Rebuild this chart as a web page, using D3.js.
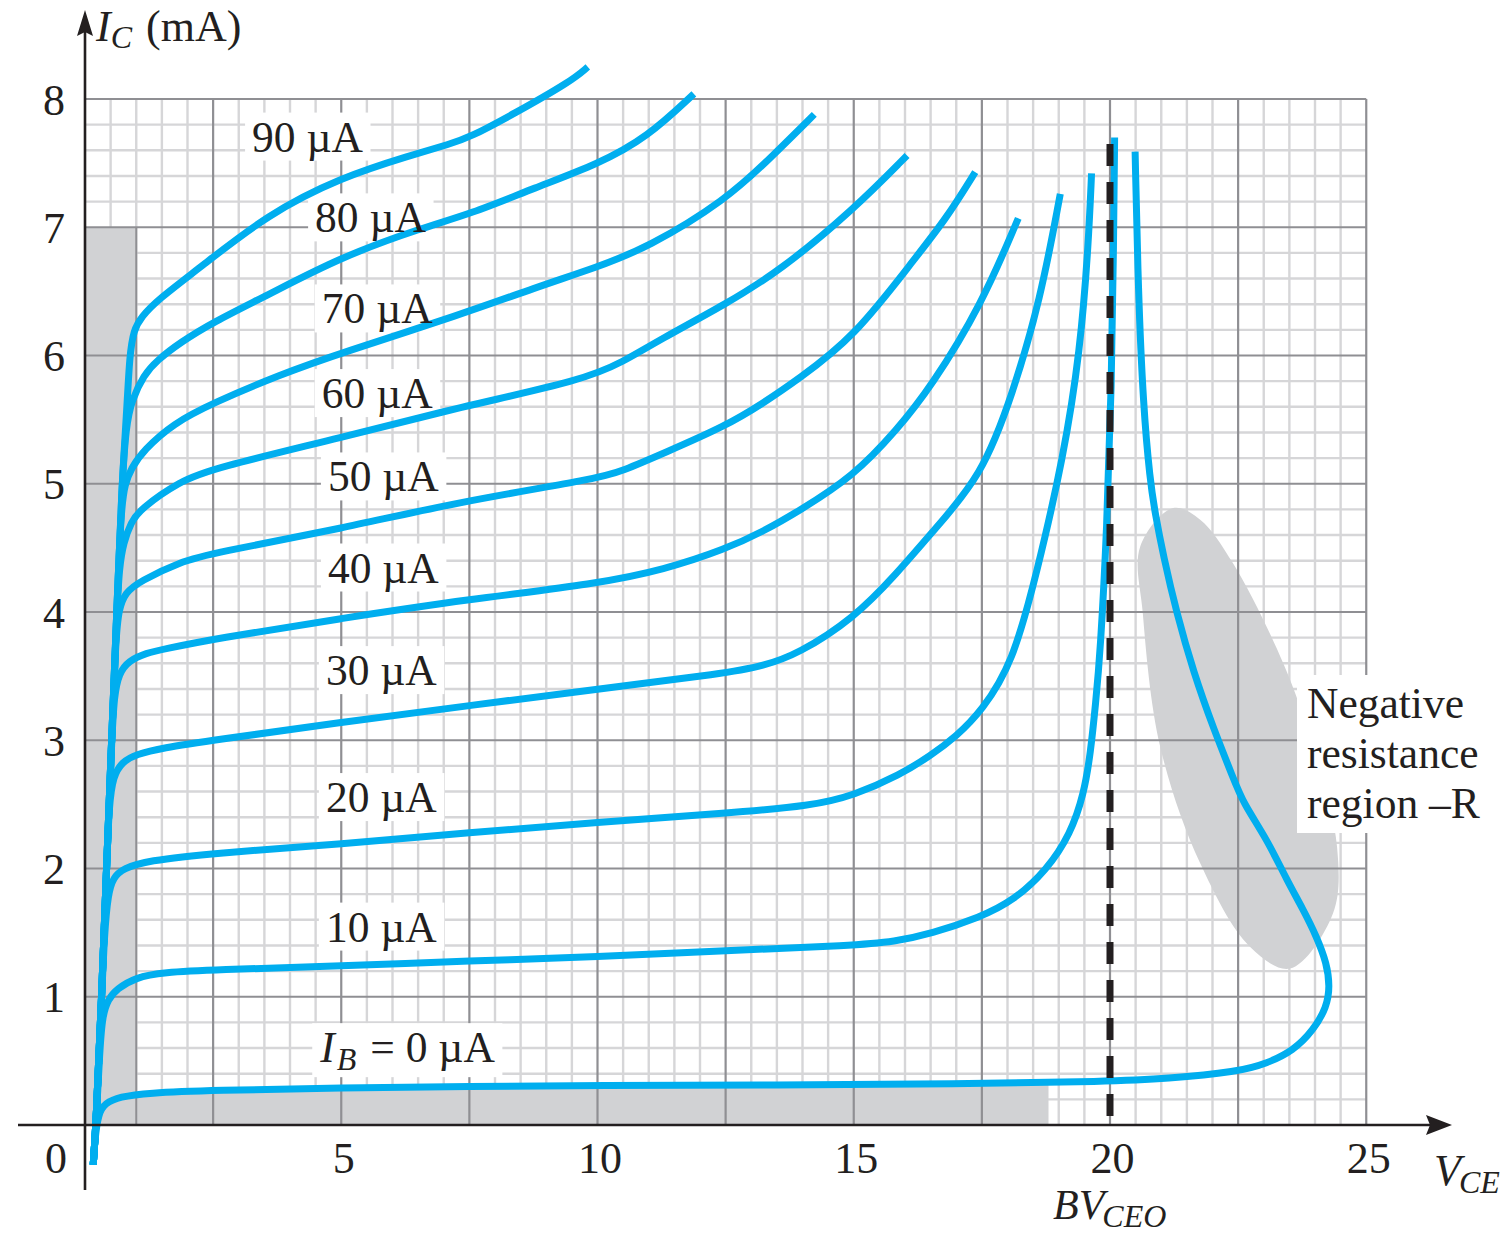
<!DOCTYPE html>
<html><head><meta charset="utf-8">
<script src="https://cdn.jsdelivr.net/npm/d3@7"></script>
<style>
body{margin:0;background:#fff}
svg{display:block}
text{font-family:"Liberation Serif","Times New Roman",serif;fill:#231f20}
</style>
</head><body>
<svg id="chart" width="1512" height="1235"></svg>
<script>
// ---------------- data ----------------
const xTicks = [5, 10, 15, 20, 25];
const yTicks = [1, 2, 3, 4, 5, 6, 7, 8];
const curveNames = ["IB0", "10", "20", "30", "40", "50", "60", "70", "80", "90"];
const labelTexts = ["90 µA", "80 µA", "70 µA", "60 µA", "50 µA", "40 µA", "30 µA", "20 µA", "10 µA"];

const ib0 = [[0.16,-0.31],[0.19,-0.12],[0.26,0.09],[0.39,0.17],[0.68,0.22],[1.2,0.25],[2.5,0.27],[5,0.29],[7.5,0.30],[10,0.31],[13.5,0.31],[17,0.32],[20,0.34],[21.1,0.36],[22.5,0.415],[23.06,0.48],[23.58,0.58],[23.97,0.74],[24.23,0.92],[24.29,1.08],[24.23,1.26],[24.03,1.47],[23.77,1.68],[23.45,1.91],[23.06,2.23],[22.6,2.51],[22.41,2.70],[22.02,3.09],[21.63,3.53],[21.30,3.99],[21.04,4.44],[20.88,4.77],[20.78,5.03],[20.65,5.6],[20.55,6.5],[20.49,7.59]];
const ib10 = [[0.16,-0.31],[0.215,0],[0.29,0.6],[0.34,0.85],[0.45,0.98],[0.62,1.06],[0.98,1.15],[1.53,1.19],[2.5,1.21],[5,1.24],[7.5,1.28],[10,1.31],[12.5,1.36],[15,1.40],[15.8,1.43],[16.5,1.49],[17.47,1.62],[18.12,1.75],[18.77,1.99],[19.23,2.27],[19.49,2.58],[19.62,2.90],[19.72,3.29],[19.81,3.68],[19.94,4.65],[20.03,5.76],[20.07,6.87],[20.09,7.70]];
const ib20 = [[0.16,-0.31],[0.215,0],[0.325,1],[0.38,1.5],[0.45,1.8],[0.55,1.93],[0.75,2.0],[1.2,2.06],[2.5,2.12],[5,2.19],[7.5,2.28],[10,2.36],[12.5,2.43],[14.2,2.49],[15,2.57],[15.9,2.73],[16.5,2.88],[17.0,3.03],[17.5,3.23],[18.1,3.6],[18.57,4.3],[19.09,5.20],[19.42,6.04],[19.58,6.87],[19.64,7.42]];
const ib30 = [[0.16,-0.31],[0.215,0],[0.325,1],[0.42,2],[0.47,2.5],[0.55,2.72],[0.72,2.83],[1.0,2.89],[1.5,2.94],[2.5,3.0],[5,3.14],[7.5,3.27],[10,3.40],[12.5,3.52],[13.24,3.58],[13.9,3.67],[15,3.95],[15.84,4.30],[16.5,4.61],[17.5,5.06],[18.1,5.70],[18.64,6.43],[19.03,7.26]];
const ib40 = [[0.16,-0.31],[0.215,0],[0.325,1],[0.42,2],[0.52,3],[0.57,3.35],[0.66,3.52],[0.85,3.62],[1.2,3.68],[1.53,3.71],[2.5,3.79],[5,3.95],[7.5,4.10],[10,4.22],[11.3,4.33],[12.5,4.49],[13.24,4.63],[13.9,4.78],[15,5.06],[15.84,5.42],[16.5,5.75],[17.5,6.40],[18.21,7.07]];
const ib50 = [[0.16,-0.31],[0.215,0],[0.325,1],[0.42,2],[0.52,3],[0.6,3.8],[0.66,4.02],[0.78,4.15],[1.07,4.24],[1.85,4.39],[2.5,4.46],[5,4.65],[7.3,4.86],[10,5.04],[10.49,5.10],[11.3,5.24],[12.5,5.45],[13.24,5.63],[13.9,5.81],[15,6.14],[16.16,6.74],[16.81,7.07],[17.37,7.43]];
const ib60 = [[0.16,-0.31],[0.215,0],[0.325,1],[0.42,2],[0.52,3],[0.62,4],[0.67,4.35],[0.75,4.54],[0.9,4.7],[1.07,4.8],[1.85,5.02],[2.5,5.12],[5,5.36],[7.34,5.60],[9.73,5.81],[10.5,5.95],[11.2,6.12],[12.5,6.40],[13.56,6.66],[15,7.14],[16.04,7.56]];
const ib70 = [[0.16,-0.31],[0.215,0],[0.325,1],[0.42,2],[0.52,3],[0.62,4],[0.7,4.8],[0.78,5.0],[0.9,5.12],[1.14,5.26],[1.72,5.47],[2.5,5.63],[3.8,5.85],[5,6.02],[7.34,6.32],[8.79,6.53],[10,6.69],[10.97,6.84],[12.5,7.21],[13.4,7.55],[14.23,7.88]];
const ib80 = [[0.16,-0.31],[0.215,0],[0.325,1],[0.42,2],[0.52,3],[0.62,4],[0.72,5],[0.8,5.45],[0.91,5.65],[1.15,5.85],[1.40,5.96],[1.85,6.10],[2.5,6.26],[3.56,6.47],[5,6.77],[6.61,7.0],[7.5,7.10],[8.79,7.31],[10,7.49],[10.97,7.70],[11.88,8.04]];
const ib90 = [[0.16,-0.31],[0.215,0],[0.325,1],[0.42,2],[0.52,3],[0.62,4],[0.72,5],[0.82,5.6],[0.87,6.0],[0.95,6.2],[1.1,6.3],[1.4,6.43],[2.26,6.69],[3.56,7.10],[5,7.39],[6.35,7.56],[7.13,7.65],[7.5,7.70],[8.35,7.88],[9.49,8.14],[9.81,8.25]];
const negRegion = [[21.23,4.81],[21.76,4.72],[22.40,4.38],[23.38,3.60],[23.96,2.95],[24.43,2.17],[24.35,1.65],[23.51,1.22],[22.73,1.39],[21.76,2.04],[20.98,2.95],[20.64,3.99],[20.59,4.51]];
const bvCEO = 20;
const saturationV = 1, saturationI = 7;
const cutoffV = 18.8;

// ---------------- layout ----------------
const svg = d3.select("#chart");
const x = d3.scaleLinear().domain([0, 25]).range([85, 1366.25]);
const y = d3.scaleLinear().domain([0, 8]).range([1125, 99]);
const BLUE = "#00aeef", GRAY = "#d1d2d4", MINOR = "#d6d6d8", MAJOR = "#8f8f93", INK = "#231f20";

svg.append("rect").attr("width", 1512).attr("height", 1235).attr("fill", "#fff");

const gMinor = svg.append("g");
const gGray = svg.append("g");
const gMajor = svg.append("g");
const gBoxes = svg.append("g");
const gCurves = svg.append("g");
const gDash = svg.append("g");
const gText = svg.append("g");

// minor grid
const minorV = d3.range(1, 50).map(i => i * 0.5).filter(v => Math.abs(v / 2.5 - Math.round(v / 2.5)) > 1e-6);
const minorH = d3.range(1, 40).map(i => i * 0.2).filter(v => Math.abs(v - Math.round(v)) > 1e-6);
gMinor.selectAll("line.v").data(minorV).join("line")
  .attr("x1", d => x(d)).attr("x2", d => x(d)).attr("y1", y(0)).attr("y2", y(8))
  .attr("stroke", MINOR).attr("stroke-width", 2.4);
gMinor.selectAll("line.h").data(minorH).join("line")
  .attr("y1", d => y(d)).attr("y2", d => y(d)).attr("x1", x(0)).attr("x2", x(25))
  .attr("stroke", MINOR).attr("stroke-width", 2.4);

// gray regions
gGray.append("rect").attr("x", x(0)).attr("y", y(saturationI))
  .attr("width", x(saturationV) - x(0)).attr("height", y(0) - y(saturationI)).attr("fill", GRAY);
svg.append("defs").append("clipPath").attr("id", "cutclip").append("rect")
  .attr("x", x(saturationV)).attr("y", y(8)).attr("width", x(cutoffV) - x(saturationV)).attr("height", y(0) - y(8));
const bandPts = ib0.filter(d => d[0] >= 0.39 && d[0] <= 21.2 && d[1] < 0.4);
gGray.append("path").datum(bandPts)
  .attr("d", d3.area().x(d => x(d[0])).y0(y(0)).y1(d => y(d[1])).curve(d3.curveBasis))
  .attr("fill", GRAY).attr("clip-path", "url(#cutclip)");
gGray.append("path").datum(negRegion)
  .attr("d", d3.line().x(d => x(d[0])).y(d => y(d[1])).curve(d3.curveCatmullRomClosed.alpha(0.5)))
  .attr("fill", GRAY);

// major grid
const majorV = d3.range(1, 11).map(i => i * 2.5);
const majorH = d3.range(1, 9);
gMajor.selectAll("line.v").data(majorV).join("line")
  .attr("x1", d => x(d)).attr("x2", d => x(d)).attr("y1", y(0)).attr("y2", y(8))
  .attr("stroke", MAJOR).attr("stroke-width", 2.2);
gMajor.selectAll("line.h").data(majorH).join("line")
  .attr("y1", d => y(d)).attr("y2", d => y(d)).attr("x1", x(0)).attr("x2", x(25))
  .attr("stroke", MAJOR).attr("stroke-width", 2.2);
gMajor.append("line").attr("x1", x(saturationV)).attr("x2", x(saturationV))
  .attr("y1", y(0)).attr("y2", y(saturationI)).attr("stroke", MAJOR).attr("stroke-width", 2);

// curves
const allCurves = [ib0, ib10, ib20, ib30, ib40, ib50, ib60, ib70, ib80, ib90];
const line = d3.line().x(d => x(d[0])).y(d => y(d[1])).curve(d3.curveBasis);
gCurves.selectAll("path").data(allCurves).join("path")
  .attr("d", line).attr("fill", "none").attr("stroke", BLUE)
  .attr("stroke-width", 7).attr("stroke-linecap", "butt").attr("stroke-linejoin", "round");

// BV_CEO dashed line
gDash.append("line").attr("x1", x(bvCEO)).attr("x2", x(bvCEO))
  .attr("y1", y(7.65)).attr("y2", y(0))
  .attr("stroke", INK).attr("stroke-width", 7).attr("stroke-dasharray", "22,16");

// axes lines
const ax = svg.append("g");
ax.append("line").attr("x1", 18).attr("x2", 1436).attr("y1", y(0)).attr("y2", y(0))
  .attr("stroke", INK).attr("stroke-width", 2.6);
ax.append("path").attr("d", `M1452,${y(0)} L1426,${y(0) - 10} L1430,${y(0)} L1426,${y(0) + 10} Z`).attr("fill", INK);
ax.append("line").attr("x1", x(0)).attr("x2", x(0)).attr("y1", 1190).attr("y2", 26)
  .attr("stroke", INK).attr("stroke-width", 2.6);
ax.append("path").attr("d", `M${x(0)},10 L${x(0) - 8},36 L${x(0)},32 L${x(0) + 8},36 Z`).attr("fill", INK);

// tick labels via d3 axes
const xAxisG = gText.append("g").attr("transform", `translate(0,${y(0)})`)
  .call(d3.axisBottom(x).tickValues(xTicks).tickSize(0).tickFormat(d3.format("d")));
xAxisG.select(".domain").remove();
xAxisG.selectAll("text").attr("y", 48).attr("dy", 0).attr("dx", 2)
  .style("font-size", "44px").style("font-family", '"Liberation Serif",serif').attr("fill", INK);
const yAxisG = gText.append("g").attr("transform", `translate(${x(0)},0)`)
  .call(d3.axisLeft(y).tickValues(yTicks).tickSize(0).tickFormat(d3.format("d")));
yAxisG.select(".domain").remove();
yAxisG.selectAll("text").attr("x", -31).attr("dy", 15).attr("text-anchor", "middle")
  .style("font-size", "44px").style("font-family", '"Liberation Serif",serif').attr("fill", INK);
gText.append("text").attr("x", 56).attr("y", 1173).attr("text-anchor", "middle")
  .style("font-size", "44px").text("0");

// axis titles
const yt = gText.append("text").attr("x", 96).attr("y", 41).style("font-size", "44px");
yt.append("tspan").attr("font-style", "italic").text("I");
yt.append("tspan").attr("font-style", "italic").attr("font-size", "32px").attr("dy", 7).text("C");
yt.append("tspan").attr("dy", -7).attr("dx", 14).text("(mA)");

const xt = gText.append("text").attr("x", 1434).attr("y", 1185).style("font-size", "44px");
xt.append("tspan").attr("font-style", "italic").text("V");
xt.append("tspan").attr("font-style", "italic").attr("font-size", "32px").attr("dy", 8).attr("dx", -2).text("CE");

const bv = gText.append("text").attr("x", 1053).attr("y", 1219).style("font-size", "42px");
bv.append("tspan").attr("font-style", "italic").text("BV");
bv.append("tspan").attr("font-style", "italic").attr("font-size", "32px").attr("dy", 8).attr("dx", -2).text("CEO");

// curve labels with white boxes
const labelPos = [[3.26,7.59],[4.49,6.96],[4.62,6.25],[4.62,5.59],[4.74,4.94],[4.74,4.23],[4.70,3.43],[4.70,2.44],[4.70,1.43]];
function boxed(textSel, padX, padTop, padBot) {
  const b = textSel.node().getBBox();
  gBoxes.append("rect").attr("x", b.x - padX).attr("y", b.y - padTop)
    .attr("width", b.width + 2 * padX).attr("height", b.height + padTop + padBot).attr("fill", "#fff");
}
labelTexts.forEach((t, i) => {
  const tx = gText.append("text").attr("x", x(labelPos[i][0])).attr("y", y(labelPos[i][1]))
    .style("font-size", "43.5px").text(t);
  boxed(tx, 7, 0, 0);
});
const ibl = gText.append("text").attr("x", x(4.59)).attr("y", y(0.49)).style("font-size", "43.5px");
ibl.append("tspan").attr("font-style", "italic").text("I");
ibl.append("tspan").attr("font-style", "italic").attr("font-size", "32px").attr("dy", 8).attr("dx", 2).text("B");
ibl.append("tspan").attr("dy", -8).attr("dx", 14).text("= 0 µA");
boxed(ibl, 7, 0, 0);

// negative resistance annotation
const neg = gText.append("text").attr("x", 1307).attr("y", 718).style("font-size", "43.5px");
["Negative", "resistance", "region –R"].forEach((s, i) => {
  neg.append("tspan").attr("x", 1307).attr("y", 718 + i * 50).text(s);
});
boxed(neg, 10, 4, 6);
</script>
</body></html>
